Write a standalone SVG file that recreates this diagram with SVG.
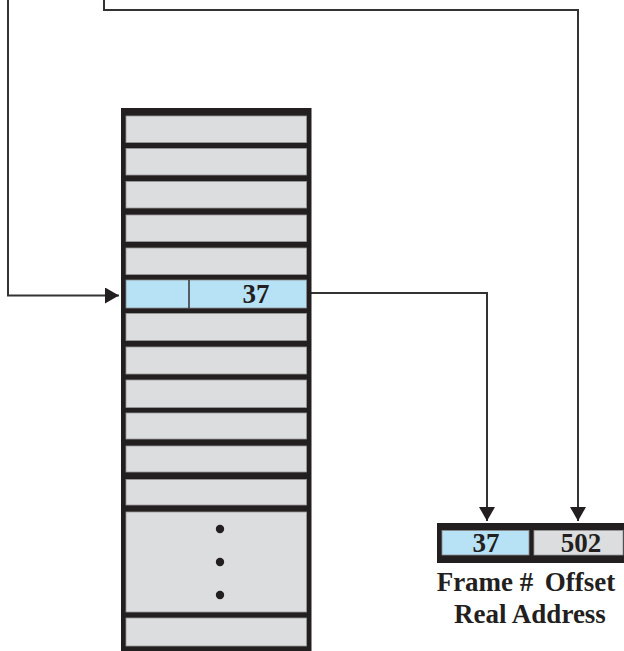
<svg xmlns="http://www.w3.org/2000/svg" width="624" height="651" viewBox="0 0 624 651">
<defs>
<style>
.frame{fill:#231f20}
.cell{fill:#dcdddf;stroke:#9a9a9a;stroke-width:0.8}
.hl{fill:#b7e2f6;stroke:#8a8a8a;stroke-width:0.8}
.conn{fill:none;stroke:#333;stroke-width:2}
.num{font-family:"Liberation Serif","Times New Roman",serif;font-weight:bold;font-size:27px;fill:#231f20;text-anchor:middle}
.lbl{font-family:"Liberation Serif","Times New Roman",serif;font-weight:bold;font-size:27px;fill:#231f20;text-anchor:middle}
</style>
<marker id="arr" markerUnits="userSpaceOnUse" markerWidth="16" markerHeight="16" refX="14" refY="8" orient="auto">
<path d="M0,0 L14,8 L0,16 z" fill="#231f20"/>
</marker>
</defs>
<g id="connectors">
<path class="conn" d="M8,0 V295.5 H119" marker-end="url(#arr)"/>
<path class="conn" d="M104,0 V10 H578 V521" marker-end="url(#arr)"/>
<path class="conn" d="M311,293 H487 V521" marker-end="url(#arr)"/>
</g>
<g id="page-table">
<rect class="frame" x="121" y="108" width="190.5" height="550"/>
<rect class="cell" x="126" y="116" width="180.5" height="26.5"/>
<rect class="cell" x="126" y="148.5" width="180.5" height="26.5"/>
<rect class="cell" x="126" y="181.5" width="180.5" height="26.5"/>
<rect class="cell" x="126" y="215" width="180.5" height="26.5"/>
<rect class="cell" x="126" y="248" width="180.5" height="26.5"/>
<rect class="cell" x="126" y="313.5" width="180.5" height="27"/>
<rect class="cell" x="126" y="347" width="180.5" height="27"/>
<rect class="cell" x="126" y="380" width="180.5" height="27.5"/>
<rect class="cell" x="126" y="413" width="180.5" height="26"/>
<rect class="cell" x="126" y="446" width="180.5" height="26"/>
<rect class="cell" x="126" y="479.5" width="180.5" height="25.5"/>
<rect class="cell" x="126" y="512" width="180.5" height="100"/>
<rect class="cell" x="126" y="618" width="180.5" height="28"/>
<g id="highlighted-entry">
<rect class="hl" x="126" y="280" width="180.5" height="28"/>
<line x1="189" y1="280" x2="189" y2="308" stroke="#333" stroke-width="1.5"/>
<text class="num" x="256" y="303">37</text>
</g>
<circle cx="220" cy="529" r="4.2" fill="#231f20"/>
<circle cx="220" cy="562" r="4.2" fill="#231f20"/>
<circle cx="220" cy="595" r="4.2" fill="#231f20"/>
</g>
<g id="real-address">
<rect class="frame" x="437" y="523" width="195" height="40"/>
<rect class="hl" x="442" y="530.5" width="87" height="24.5"/>
<rect class="cell" x="534" y="530.5" width="89" height="24.5"/>
<text class="num" x="486" y="552">37</text>
<text class="num" x="581" y="552">502</text>
<text class="lbl" x="485" y="591">Frame #</text>
<text class="lbl" x="580" y="591">Offset</text>
<text class="lbl" x="530" y="623">Real Address</text>
</g>
</svg>
